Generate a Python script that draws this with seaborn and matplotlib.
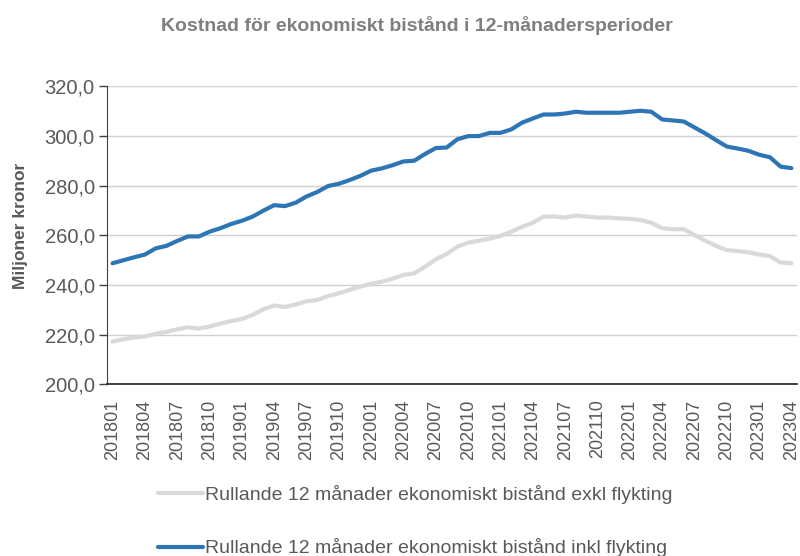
import numpy as np
import pandas as pd
import matplotlib
matplotlib.use("Agg")
import matplotlib.pyplot as plt
import seaborn as sns
from matplotlib.lines import Line2D

# Months 201801 .. 202304
months = [f"{y}{m:02d}" for y in range(2018, 2024) for m in range(1, 13)][:64]

exkl = [217.2, 218.1, 218.8, 219.2, 220.3, 221.1, 222.1, 222.9, 222.4, 223.2,
        224.4, 225.4, 226.3, 227.9, 230.2, 231.7, 231.1, 232.1, 233.4, 233.9,
        235.5, 236.6, 238.0, 239.3, 240.4, 241.3, 242.5, 244.0, 244.7, 247.3,
        250.3, 252.4, 255.4, 257.0, 257.8, 258.6, 259.7, 261.4, 263.4, 265.0,
        267.5, 267.5, 267.1, 267.9, 267.5, 267.1, 267.1, 266.8, 266.6, 266.1,
        265.0, 262.8, 262.4, 262.4, 260.1, 257.8, 255.7, 254.0, 253.6, 253.1,
        252.2, 251.6, 249.0, 248.7]

inkl = [248.7, 249.9, 251.1, 252.2, 254.7, 255.7, 257.7, 259.5, 259.5, 261.4,
        262.8, 264.5, 265.8, 267.5, 269.9, 272.1, 271.7, 273.1, 275.6, 277.4,
        279.8, 280.7, 282.2, 283.9, 286.0, 286.9, 288.2, 289.7, 290.0, 292.7,
        295.1, 295.3, 298.6, 299.9, 299.9, 301.2, 301.2, 302.6, 305.3, 307.0,
        308.6, 308.6, 309.0, 309.7, 309.3, 309.3, 309.3, 309.3, 309.7, 310.1,
        309.7, 306.6, 306.2, 305.8, 303.4, 301.0, 298.3, 295.7, 294.9, 294.0,
        292.4, 291.4, 287.6, 287.0]

series_names = ["Rullande 12 månader ekonomiskt bistånd exkl flykting",
                "Rullande 12 månader ekonomiskt bistånd inkl flykting"]
y_ticks = [200, 220, 240, 260, 280, 300, 320]

df = pd.DataFrame({
    "idx": list(range(len(months))) * 2,
    "value": exkl + inkl,
    "series": [series_names[0]] * len(months) + [series_names[1]] * len(months),
})

sns.set_style("white")
plt.rcParams["font.family"] = ["Liberation Sans", "DejaVu Sans"]

fig = plt.figure(figsize=(8.0, 5.56), dpi=100)
ax = fig.add_axes([0.134, 0.309, 0.862, 0.536])

palette = {series_names[0]: "#D9D9D9", series_names[1]: "#2E75B6"}
sns.lineplot(data=df, x="idx", y="value", hue="series", hue_order=series_names,
             palette=palette, linewidth=3.0, ax=ax, legend=False)

ax.set_xlim(-0.5, len(months) - 0.5)
ax.set_ylim(200, 320)
ax.set_yticks(y_ticks)
ax.set_yticklabels([f"{v:.1f}".replace(".", ",") for v in y_ticks],
                   fontsize=14.5, color="#595959")
tick_idx = list(range(0, len(months), 3))
ax.set_xticks(tick_idx)
ax.set_xticklabels([months[i] for i in tick_idx], rotation=90,
                   fontsize=13, color="#595959")
ax.tick_params(axis="x", length=0, pad=11)
ax.tick_params(axis="y", length=6, width=1, color="#404040", direction="out", pad=3, left=True)

ax.grid(axis="y", color="#D0D0D0", linewidth=1)
ax.set_axisbelow(True)
for s in ["top", "right"]:
    ax.spines[s].set_visible(False)
ax.spines["left"].set_color("#404040")
ax.spines["bottom"].set_color("#202020")
ax.spines["bottom"].set_linewidth(1.2)

ax.set_xlabel("")
ax.set_ylabel("Miljoner kronor", fontsize=12.5, fontweight="bold", color="#595959")
ax.yaxis.set_label_coords(-0.115, 0.53)

fig.text(0.521, 0.955, "Kostnad för ekonomiskt bistånd i 12-månadersperioder",
         ha="center", va="center", fontsize=14, fontweight="bold", color="#7F7F7F")

handles = [Line2D([], [], color=palette[n], linewidth=3.0) for n in series_names]
fig.legend(handles, series_names, loc="upper left", bbox_to_anchor=(0.198, 0.128),
           frameon=False, fontsize=14, labelcolor="#595959", handlelength=2.3,
           handletextpad=0.1, labelspacing=1.78, borderpad=0, borderaxespad=0)

fig.savefig("out.png", dpi=100)
